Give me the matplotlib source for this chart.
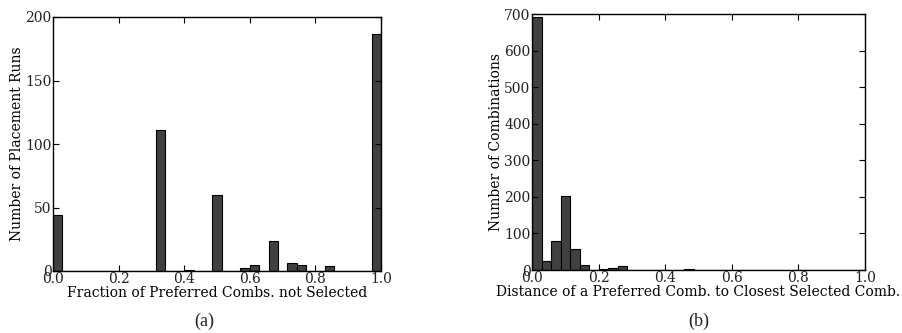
import numpy as np
import matplotlib
matplotlib.use("Agg")
import matplotlib.pyplot as plt

# 35 equal bins on [0, 1]
n_bins = 35
bin_edges = np.linspace(0.0, 1.0, n_bins + 1)

# (a) fraction of preferred combinations not selected, count per bin
runs_counts = [44, 0, 0, 0, 0, 0, 0, 0, 0, 0, 0, 111, 0, 0, 1, 0, 0, 60,
               0, 0, 2, 5, 0, 24, 0, 6, 5, 0, 0, 4, 0, 0, 0, 0, 187]

# (b) distance of preferred comb. to closest selected comb., count per bin
comb_counts = [692, 24, 80, 203, 58, 15, 0, 4, 6, 10, 0, 0, 0, 0, 0, 1, 3, 1,
               0, 1, 0, 0, 0, 0, 0, 0, 0, 0, 0, 0, 0, 0, 0, 0, 0]

plt.rcParams['font.family'] = 'DejaVu Serif'
plt.rcParams['font.size'] = 10
plt.rcParams['text.color'] = '#222222'

fig = plt.figure(figsize=(9.03, 3.33), dpi=100)
ax1 = fig.add_axes([53 / 903, 1 - 271 / 333, 328 / 903, 254 / 333])
ax2 = fig.add_axes([532 / 903, 1 - 270 / 333, 333 / 903, 256 / 333])

def draw(ax, counts, ymax, ystep, xlabel, ylabel, caption, cap_x):
    ax.bar(bin_edges[:-1], counts, width=np.diff(bin_edges), align='edge',
           color='#404040', edgecolor='black', linewidth=0.8)
    ax.set_xlim(0, 1)
    ax.set_ylim(0, ymax)
    ax.set_xticks(np.arange(0, 1.01, 0.2))
    ax.set_xticklabels(['%.1f' % v for v in np.arange(0, 1.01, 0.2)])
    ax.set_yticks(np.arange(0, ymax + 1, ystep))
    ax.tick_params(direction='in', top=True, right=True, length=4, width=0.8,
                   pad=1, labelcolor='#222222')
    for s in ax.spines.values():
        s.set_linewidth(1.0)
    ax.set_xlabel(xlabel, labelpad=0)
    ax.set_ylabel(ylabel, labelpad=1)
    fig.text(cap_x / 903, 1 - 321 / 333, caption, ha='center', va='center',
             family='Liberation Serif', fontsize=13)

draw(ax1, runs_counts, 200, 50, 'Fraction of Preferred Combs. not Selected',
     'Number of Placement Runs', '(a)', 204)
draw(ax2, comb_counts, 700, 100, 'Distance of a Preferred Comb. to Closest Selected Comb.',
     'Number of Combinations', '(b)', 699)

fig.savefig('out.png', dpi=100)
